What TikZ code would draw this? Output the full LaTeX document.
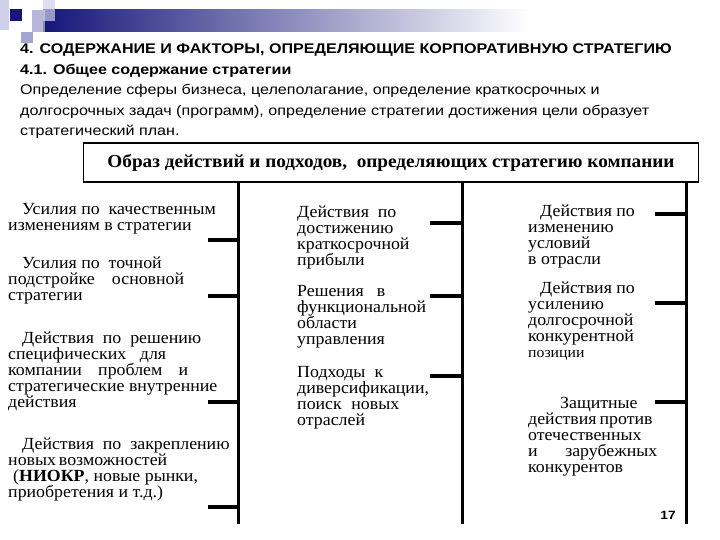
\documentclass[tikz,border=0pt]{standalone}
\usepackage{fontspec}
\setmainfont{Liberation Serif}[FakeStretch=1.05]
\setsansfont{Liberation Sans}[FakeStretch=1.15]
\usetikzlibrary{positioning}
\definecolor{slideblue}{RGB}{22,22,120}
\definecolor{lilac}{RGB}{208,208,234}
\definecolor{lilacmid}{RGB}{165,165,210}
\tikzstyle{item}=[anchor=base west, inner sep=0pt, align=left, font=\fontsize{17}{16}\selectfont]
\tikzstyle{stem}=[line width=3pt]
\tikzstyle{tick}=[line width=4pt]
\tikzstyle{headbox}=[draw, line width=1.2pt, minimum width=615pt, minimum height=39pt, inner sep=0pt, font=\bfseries\fontsize{18.3}{19}\selectfont]
\newcommand{\spread}[2]{\makebox[#1][s]{#2}}

\begin{document}
\begin{tikzpicture}[x=1pt, y=-1pt]
        \useasboundingbox (0,0) rectangle (720,540);
        \shade[left color=slideblue, right color=white] (43,10) rectangle (530,32);
        \fill[lilac] (0,0) rectangle (9,30);
        \fill[lilacmid, opacity=0.8] (32,10) rectangle (45,32);
        \fill[lilac, opacity=0.7] (43,0) rectangle (55,21);
        \fill[lilacmid] (21,32) rectangle (33,43);
        \fill[slideblue] (10,9) rectangle (22,21);
        % base anchors sit on the last line of each block
        \node[anchor=base west, inner sep=0pt, font=\sffamily\bfseries\fontsize{14}{14}\selectfont] (title) at (20,54)
            {4. СОДЕРЖАНИЕ И ФАКТОРЫ, ОПРЕДЕЛЯЮЩИЕ КОРПОРАТИВНУЮ СТРАТЕГИЮ};
        \node[anchor=base west, inner sep=0pt, font=\sffamily\bfseries\fontsize{14}{14}\selectfont] (subtitle) at (20,75)
            {4.1. Общее содержание стратегии};
        \node[anchor=base west, inner sep=0pt, align=left, font=\sffamily\fontsize{14}{20.5}\selectfont] (intro) at (20,136)
            {Определение сферы бизнеса, целеполагание, определение краткосрочных и\\
             долгосрочных задач (программ), определение стратегии достижения цели образует\\
             стратегический план.};
        \node[headbox] (head) at (391,162.5) {Образ действий и подходов,\ \ определяющих стратегию компании};
        \coordinate (s1) at (238,524);
        \coordinate (s2) at (462,524);
        \coordinate (s3) at (686,524);
        \foreach \s in {s1,s2,s3}
            \draw[stem] (head.south -| \s) -- (\s);
        \foreach \y [count=\i] in {240,296,402,507}
            \coordinate (a\i) at (208,\y);
        \foreach \y [count=\i] in {223,296,376}
            \coordinate (b\i) at (430,\y);
        \foreach \y [count=\i] in {214,303,402}
            \coordinate (c\i) at (655,\y);
        \foreach \i in {1,...,4}
            \draw[tick] (a\i) -- (a\i -| s1);
        \foreach \i in {1,...,3}
            \draw[tick] (b\i) -- (b\i -| s2);
        \foreach \i in {1,...,3}
            \draw[tick] (c\i) -- (c\i -| s3);
        \node[item] (left1) at (8,230)
            {\hspace*{14pt}Усилия по\ \ качественным\\ изменениям в стратегии};
        \node[item] (left2) at (8,300.6)
            {\hspace*{14pt}Усилия по\ \ точной\\ \spread{176pt}{подстройке основной}\\ стратегии};
        \node[item] (left3) at (8,407)
            {\hspace*{14pt}Действия\ \ по\ \ решению\\ \spread{158pt}{специфических для}\\ \spread{180pt}{компании проблем и}\\ стратегические внутренние\\ действия};
        \node[item] (left4) at (8,497.5)
            {\hspace*{14pt}Действия\ \ по\ \ закреплению\\ \spread{158pt}{новых возможностей}\\ \hspace*{5pt}(\textbf{НИОКР}, новые рынки,\\ приобретения и т.д.)};
        \node[item] (mid1) at (297,265.4)
            {Действия\ \ по\\ достижению\\ краткосрочной\\ прибыли};
        \node[item] (mid2) at (297,344.4)
            {\spread{88pt}{Решения в}\\ функциональной\\ области\\ управления};
        \node[item] (mid3) at (297,425.4)
            {\spread{86pt}{Подходы к}\\ диверсификации,\\ \spread{102pt}{поиск новых}\\ отраслей};
        \node[item] (right1) at (528,264.4)
            {\hspace*{12pt}Действия по\\ изменению\\ условий\\ в отрасли};
        \node[item] (right2) at (528,357)
            {\hspace*{12pt}Действия по\\ усилению\\ долгосрочной\\ конкурентной\\ {\fontsize{15}{15}\selectfont позиции}};
        \node[item] (right3) at (528,472)
            {\hspace*{32pt}Защитные\\ \spread{109pt}{действия против}\\ отечественных\\ \spread{129pt}{и зарубежных}\\ конкурентов};
        \node[anchor=base east, inner sep=0pt, font=\sffamily\bfseries\fontsize{12}{12}\selectfont] (pagenum) at (676,519) {17};
    \end{tikzpicture}
\end{document}
